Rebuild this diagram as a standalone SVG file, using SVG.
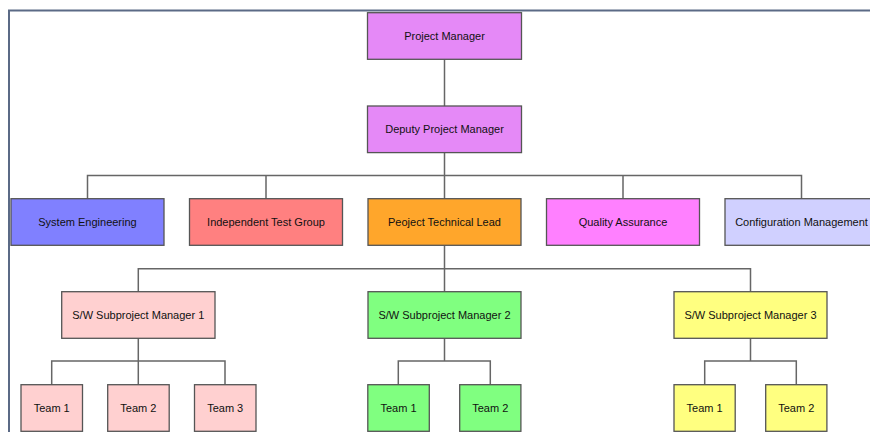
<svg xmlns="http://www.w3.org/2000/svg" width="870" height="432" viewBox="0 0 870 432">
<style>
.b{stroke:#555;stroke-width:1.3}
.t{font-family:"Liberation Sans",Arial,sans-serif;font-size:11px;fill:#111;text-anchor:middle}
.c{fill:none;stroke:#666;stroke-width:1.5}
</style>
<rect width="870" height="432" fill="#fff"/>
<path d="M9 432 V10.5 H870" fill="none" stroke="#5b6a86" stroke-width="2"/>
<g id="connectors" class="c">
<path d="M444.5 59.3 V106"/>
<path d="M444.5 152.7 V198.7 M87.5 198.7 V175.5 H801.5 V198.7 M266 175.5 V198.7 M623 175.5 V198.7"/>
<path d="M444.5 245.3 V291.7 M138.3 291.7 V268.7 H750.5 V291.7"/>
<path d="M138.3 338.3 V384.7 M51.7 384.7 V361 H225 V384.7"/>
<path d="M444.5 338.3 V361 M398.3 384.7 V361 H490.3 V384.7"/>
<path d="M750.5 338.3 V361 M704.7 384.7 V361 H796.3 V384.7"/>
</g>
<g id="pm"><rect class="b" x="367.5" y="12.7" width="154" height="46.6" fill="#e589f7"/><text class="t" x="444.5" y="40">Project Manager</text></g>
<g id="dpm"><rect class="b" x="367.5" y="106" width="154" height="46.6" fill="#e589f7"/><text class="t" x="444.5" y="133.3">Deputy Project Manager</text></g>
<g id="se"><rect class="b" x="11" y="198.7" width="153" height="46.6" fill="#8080ff"/><text class="t" x="87.5" y="226">System Engineering</text></g>
<g id="itg"><rect class="b" x="189.5" y="198.7" width="153" height="46.6" fill="#ff8080"/><text class="t" x="266" y="226">Independent Test Group</text></g>
<g id="ptl"><rect class="b" x="368" y="198.7" width="153" height="46.6" fill="#ffa62b"/><text class="t" x="444.5" y="226">Peoject Technical Lead</text></g>
<g id="qa"><rect class="b" x="546.5" y="198.7" width="153" height="46.6" fill="#ff80ff"/><text class="t" x="623" y="226">Quality Assurance</text></g>
<g id="cm"><rect class="b" x="725" y="198.7" width="153" height="46.6" fill="#d0d0ff"/><text class="t" x="801.5" y="226">Configuration Management</text></g>
<g id="sw1"><rect class="b" x="61.7" y="291.7" width="153.3" height="46.6" fill="#ffd0d0"/><text class="t" x="138.3" y="319">S/W Subproject Manager 1</text></g>
<g id="sw2"><rect class="b" x="368" y="291.7" width="153" height="46.6" fill="#80ff80"/><text class="t" x="444.5" y="319">S/W Subproject Manager 2</text></g>
<g id="sw3"><rect class="b" x="674" y="291.7" width="153" height="46.6" fill="#ffff80"/><text class="t" x="750.5" y="319">S/W Subproject Manager 3</text></g>
<g id="sw1t1"><rect class="b" x="21" y="384.7" width="61.5" height="46.6" fill="#ffd0d0"/><text class="t" x="51.7" y="412">Team 1</text></g>
<g id="sw1t2"><rect class="b" x="107.7" y="384.7" width="61.5" height="46.6" fill="#ffd0d0"/><text class="t" x="138.4" y="412">Team 2</text></g>
<g id="sw1t3"><rect class="b" x="194.5" y="384.7" width="61.5" height="46.6" fill="#ffd0d0"/><text class="t" x="225.2" y="412">Team 3</text></g>
<g id="sw2t1"><rect class="b" x="367.8" y="384.7" width="61.5" height="46.6" fill="#80ff80"/><text class="t" x="398.5" y="412">Team 1</text></g>
<g id="sw2t2"><rect class="b" x="459.7" y="384.7" width="61.2" height="46.6" fill="#80ff80"/><text class="t" x="490.3" y="412">Team 2</text></g>
<g id="sw3t1"><rect class="b" x="674" y="384.7" width="61.2" height="46.6" fill="#ffff80"/><text class="t" x="704.6" y="412">Team 1</text></g>
<g id="sw3t2"><rect class="b" x="765.7" y="384.7" width="61.2" height="46.6" fill="#ffff80"/><text class="t" x="796.3" y="412">Team 2</text></g>
</svg>
